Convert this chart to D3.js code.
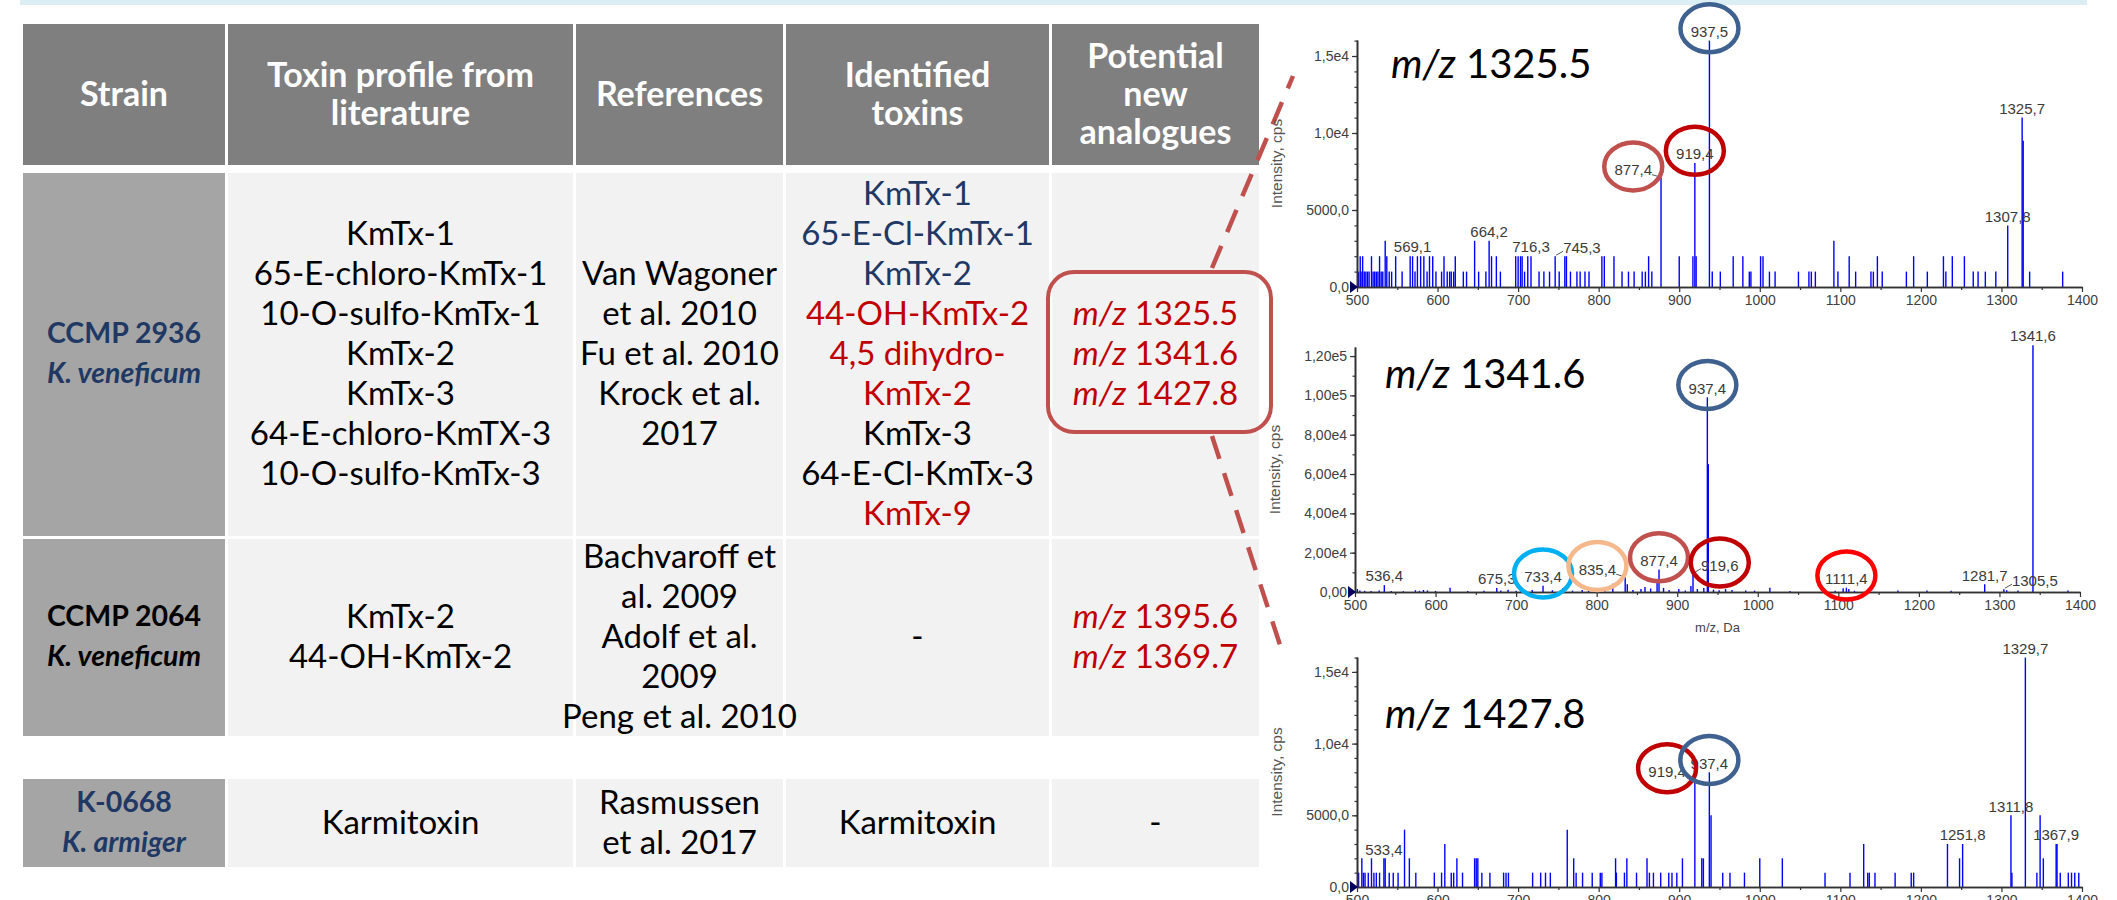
<!DOCTYPE html>
<html><head><meta charset="utf-8">
<script src="https://cdn.jsdelivr.net/npm/d3@7"></script>
<style>
html,body{margin:0;padding:0;background:#fff;}
svg{display:block;}
</style></head>
<body><svg id="chart" width="2117" height="900"></svg>
<script>
// ================= DATA =================
const headers = [["Strain"], ["Toxin profile from", "literature"], ["References"], ["Identified", "toxins"], ["Potential", "new", "analogues"]];
const strainIds = ["CCMP 2936", "CCMP 2064", "K-0668"];
const strainSpecies = ["K. veneficum", "K. veneficum", "K. armiger"];
const literatureProfile = [
  ["KmTx-1", "65-E-chloro-KmTx-1", "10-O-sulfo-KmTx-1", "KmTx-2", "KmTx-3", "64-E-chloro-KmTX-3", "10-O-sulfo-KmTx-3"],
  ["KmTx-2", "44-OH-KmTx-2"],
  ["Karmitoxin"]
];
const references = [
  ["Van Wagoner", "et al. 2010", "Fu et al. 2010", "Krock et al.", "2017"],
  ["Bachvaroff et", "al. 2009", "Adolf et al.", "2009", "Peng et al. 2010"],
  ["Rasmussen", "et al. 2017"]
];
const identifiedToxins = [
  ["KmTx-1", "65-E-Cl-KmTx-1", "KmTx-2", "44-OH-KmTx-2", "4,5 dihydro-", "KmTx-2", "KmTx-3", "64-E-Cl-KmTx-3", "KmTx-9"],
  ["-"],
  ["Karmitoxin"]
];
// status: "std" = matched with standard, "new" = newly reported, "lit" = known
const identifiedStatus = [
  ["std", "std", "std", "new", "new", "new", "lit", "lit", "new"],
  ["lit"],
  ["lit"]
];
const newAnalogues = [["1325.5", "1341.6", "1427.8"], ["1395.6", "1369.7"], []];

const spectrumPrecursors = ["1325.5", "1341.6", "1427.8"];
const xTickValues = [500, 600, 700, 800, 900, 1000, 1100, 1200, 1300, 1400];
const xTickLabels = ["500", "600", "700", "800", "900", "1000", "1100", "1200", "1300", "1400"];
const yTickValues1 = [0, 5000, 10000, 15000];
const yTickLabels1 = ["0,0", "5000,0", "1,0e4", "1,5e4"];
const yTickValues2 = [0, 20000, 40000, 60000, 80000, 100000, 120000];
const yTickLabels2 = ["0,00", "2,00e4", "4,00e4", "6,00e4", "8,00e4", "1,00e5", "1,20e5"];
const yTickValues3 = [0, 5000, 10000, 15000];
const yTickLabels3 = ["0,0", "5000,0", "1,0e4", "1,5e4"];

// [m/z, intensity (cps)]
const peaks1 = [[502,1000],[504,2000],[505,1000],[507,2000],[509,1000],[511,1000],[513,1000],[515,1000],[518,2000],[520,1000],[522,1000],[524,1000],[526,1000],[528,2000],[530,1000],[532,1000],[535,3000],[537,2000],[540,1000],[543,1000],[548,2000],[556,1000],[566,2000],[569,2000],[572,1000],[575,2000],[579,2000],[583,2000],[587,1000],[590,2000],[594,2000],[598,1000],[605,1000],[608,2000],[612,1000],[615,1000],[617,1000],[620,1000],[622,2000],[632,1000],[636,1000],[646,3000],[651,1000],[660,1000],[664,3000],[667,2000],[673,2000],[678,1000],[697,2000],[700,2000],[703,2000],[705,2000],[708,1000],[712,2000],[716,2000],[726,1000],[732,1000],[739,1000],[746,2000],[751,1000],[758,2000],[760,2000],[765,1000],[773,1000],[777,1000],[783,1000],[788,1000],[804,2000],[807,2000],[819,2000],[829,1000],[837,1000],[844,1000],[854,1000],[858,1000],[862,2000],[866,1000],[877.4,7100],[900,2000],[917,2000],[919.4,8050],[921,2000],[937.5,16000],[941,1000],[951,1000],[967,2000],[979,2000],[987,1000],[989,1000],[1001,2000],[1004,2000],[1012,1000],[1019,1000],[1048,1000],[1061,1000],[1064,1000],[1069,1000],[1092,3000],[1097,1000],[1111,2000],[1119,1000],[1138,1000],[1141,1000],[1146,2000],[1152,1000],[1182,1000],[1191,2000],[1208,1000],[1228,2000],[1231,1000],[1239,2000],[1254,2000],[1265,1000],[1271,1000],[1280,1000],[1293,1000],[1307.8,4000],[1325.7,11000],[1327,9500],[1335,1000],[1376,1000]];
const peaks2 = [[503,1500],[506,800],[512,600],[520,500],[530,700],[536.4,3500],[545,500],[560,400],[575,900],[580,600],[585,1000],[590,800],[600,500],[618,2200],[640,500],[660,600],[676,2000],[681,800],[690,1200],[700,600],[706,1500],[712,800],[720,1000],[733.4,3200],[745,900],[758,2000],[770,700],[782,1000],[790,600],[800,1200],[810,1500],[820,4200],[835.4,7500],[838,4000],[845,1000],[855,1500],[860,2500],[867,1800],[875,6000],[877.4,11400],[883,2000],[890,1000],[902,1500],[910,800],[917,3000],[919.6,9300],[925,1500],[933,2000],[937.4,99000],[938.6,65000],[945,1200],[952,900],[960,1500],[968,1000],[985,800],[996,700],[1015,2200],[1040,500],[1096,600],[1106,1900],[1110,2200],[1113,1500],[1120,600],[1174,700],[1210,700],[1240,600],[1281.7,3900],[1305.5,1400],[1309,900],[1323,800],[1341.6,125500],[1385,700]];
const peaks3 = [[502,1000],[506,2000],[508,1000],[510,1000],[514,1000],[518,2000],[521,1000],[524,1000],[528,1000],[533.4,2000],[535,2000],[540,1000],[545,1000],[551,1000],[559,4000],[565,2000],[573,1000],[596,1000],[605,1000],[609,3000],[617,1000],[620,1000],[624,2000],[631,1000],[646,2000],[648,2000],[650,2000],[655,1000],[665,1000],[682,1000],[685,1000],[688,1000],[718,1000],[728,1000],[734,1000],[740,1000],[761,4000],[769,2000],[772,1000],[780,1000],[792,1000],[802,1000],[804,1000],[821,2000],[822,1000],[832,1000],[835,2000],[847,1000],[860,2000],[863,1000],[868,1000],[877,1000],[887,1000],[891,1000],[897,1000],[904,2000],[919.4,7500],[928,2000],[930,2000],[937.4,8000],[939.5,5000],[954,1000],[963,1000],[981,1000],[1000,2000],[1028,2000],[1081,1000],[1112,1000],[1129,3000],[1134,1000],[1136,1000],[1143,1000],[1168,1000],[1188,1000],[1191,1000],[1233,3000],[1248,2000],[1251.8,3000],[1311.8,5000],[1313,1000],[1329.7,16000],[1344,1000],[1348,5000],[1352,2000],[1367.9,3000],[1369,3000],[1373,1000],[1383,1000],[1387,1000],[1391,1000],[1396,1000]];

// annotated peaks: [m/z, label text, placement]
const labels1 = [[569.1,"569,1","top"],[664.2,"664,2","top"],[716,"716,3","top"],[746,"745,3","right"],[877.4,"877,4","left"],[919.4,"919,4","top"],[937.5,"937,5","top"],[1307.8,"1307,8","top"],[1325.7,"1325,7","top"]];
const labels2 = [[536.4,"536,4","top"],[676,"675,3","top"],[733.4,"733,4","top"],[835.4,"835,4","left"],[877.4,"877,4","top"],[919.6,"919,6","right"],[937.4,"937,4","top"],[1110,"1111,4","top"],[1281.7,"1281,7","top"],[1305.5,"1305,5","right"],[1341.6,"1341,6","top"]];
const labels3 = [[533.4,"533,4","top"],[919.4,"919,4","left"],[937.4,"937,4","top"],[1251.8,"1251,8","top"],[1311.8,"1311,8","top"],[1329.7,"1329,7","top"],[1367.9,"1367,9","top"]];
// highlighted fragment ions: [label text, fragment group]
const circles1 = [["937,5","g937"],["919,4","g919"],["877,4","g877"]];
const circles2 = [["937,4","g937"],["733,4","g733"],["835,4","g835"],["877,4","g877"],["919,6","g919"],["1111,4","g1111"]];
const circles3 = [["919,4","g919"],["937,4","g937"]];

// ================= DRAWING =================
const svg = d3.select("#chart");
svg.append("rect").attr("width", 2117).attr("height", 900).attr("fill", "#fff");
svg.append("rect").attr("x", 20).attr("y", 0).attr("width", 2067).attr("height", 5).attr("fill", "#dbeef4");

const TF = "Lato, 'Open Sans', sans-serif";
const NAVY = "#1f3864", RED = "#c00000";

function addLines(g, cx, cy, items, lh, style) {
  const n = items.length;
  items.forEach((segs, i) => {
    const t = g.append("text")
      .attr("x", cx).attr("y", cy + (i - (n - 1) / 2) * lh)
      .attr("dy", "0.35em").attr("text-anchor", "middle")
      .attr("font-family", TF).attr("font-size", style.size)
      .attr("font-weight", style.weight || 400)
      .attr("fill", style.fill || "#000");
    segs.forEach(s => {
      t.append("tspan").text(s.t)
        .attr("font-style", s.it ? "italic" : "normal")
        .attr("fill", s.fill || null);
    });
  });
}

const table = svg.append("g");
const colX = [23, 228, 576, 786, 1052], colW = [202, 345, 207, 263, 207];
const hdr = [24, 165];
const rowsY = [[173, 536], [539, 736], [779, 867]];

headers.forEach((lines, i) => {
  table.append("rect").attr("x", colX[i]).attr("y", hdr[0]).attr("width", colW[i]).attr("height", hdr[1] - hdr[0]).attr("fill", "#7f7f7f");
  addLines(table, colX[i] + colW[i] / 2, (hdr[0] + hdr[1]) / 2, lines.map(t => [{t}]), 38, {size: 34, weight: 700, fill: "#fff"});
});

const strainColors = [NAVY, "#000", NAVY];
const statusColor = {std: NAVY, new: RED, lit: "#000"};
rowsY.forEach((ry, r) => {
  colX.forEach((cx0, c) => {
    table.append("rect").attr("x", cx0).attr("y", ry[0]).attr("width", colW[c]).attr("height", ry[1] - ry[0])
      .attr("fill", c === 0 ? "#a5a5a5" : "#f2f2f2");
  });
  const cy = (ry[0] + ry[1]) / 2 - 1;
  const ccx = c => colX[c] + colW[c] / 2;
  addLines(table, ccx(0), cy, [[{t: strainIds[r]}], [{t: strainSpecies[r], it: true}]], 40, {size: 28.5, weight: 700, fill: strainColors[r]});
  addLines(table, ccx(1), cy, literatureProfile[r].map(t => [{t}]), 40, {size: 33});
  addLines(table, ccx(2), cy, references[r].map(t => [{t}]), 40, {size: 33});
  addLines(table, ccx(3), cy, identifiedToxins[r].map((t, i) => [{t, fill: statusColor[identifiedStatus[r][i]]}]), 40, {size: 33});
  if (newAnalogues[r].length) {
    addLines(table, ccx(4), cy, newAnalogues[r].map(v => [{t: "m/z", it: true}, {t: " " + v}]), 40, {size: 33, fill: RED});
  } else {
    addLines(table, ccx(4), cy, [[{t: "-"}]], 40, {size: 33});
  }
});

// highlight box + dashed connectors
const ACC = "#c0504d";
svg.append("rect").attr("x", 1048).attr("y", 272).attr("width", 223).attr("height", 160).attr("rx", 26)
  .attr("fill", "none").attr("stroke", ACC).attr("stroke-width", 4);
svg.append("line").attr("x1", 1212).attr("y1", 268).attr("x2", 1293).attr("y2", 76)
  .attr("stroke", ACC).attr("stroke-width", 4.5).attr("stroke-dasharray", "24,15");
svg.append("line").attr("x1", 1212).attr("y1", 436).attr("x2", 1281).attr("y2", 648)
  .attr("stroke", ACC).attr("stroke-width", 4.5).attr("stroke-dasharray", "24,15");

// spectra
const LF = "'Liberation Sans', Arial, sans-serif";
const circleColor = {g937: "#3f6190", g919: "#c00000", g877: "#c0504d", g733: "#00b0f0", g835: "#f5b88a", g1111: "#ff0000"};

function drawSpectrum(cfg) {
  const g = svg.append("g");
  const x = d3.scaleLinear().domain([500, 1400]).range([cfg.x0, cfg.x1]);
  const y = d3.scaleLinear().domain([0, cfg.yMax]).range([cfg.yb, cfg.yt]);

  g.append("g").selectAll("line").data(cfg.peaks).join("line")
    .attr("x1", d => x(d[0])).attr("x2", d => x(d[0]))
    .attr("y1", y(0)).attr("y2", d => y(d[1]))
    .attr("stroke", "#0000ff").attr("stroke-width", 1.4);

  const styleAxis = sel => {
    sel.select(".domain").attr("stroke", "#333").attr("stroke-width", 1.6);
    sel.selectAll(".tick line").attr("stroke", "#333").attr("stroke-width", 1.2);
    sel.selectAll(".tick text").attr("fill", "#404040").attr("font-family", LF).attr("font-size", 14);
  };
  const gx = g.append("g").attr("transform", `translate(0,${cfg.yb})`)
    .call(d3.axisBottom(x).tickValues(xTickValues).tickFormat((d, i) => xTickLabels[i]).tickSize(5).tickPadding(3).tickSizeOuter(0));
  styleAxis(gx);
  const gxm = g.append("g").attr("transform", `translate(0,${cfg.yb})`)
    .call(d3.axisBottom(x).tickValues(d3.range(550, 1400, 100)).tickFormat("").tickSize(3).tickSizeOuter(0));
  styleAxis(gxm);
  const gy = g.append("g").attr("transform", `translate(${cfg.x0},0)`)
    .call(d3.axisLeft(y).tickValues(cfg.yTicks).tickFormat((d, i) => cfg.yLabels[i]).tickSize(5).tickPadding(3).tickSizeOuter(0));
  styleAxis(gy);
  const gym = g.append("g").attr("transform", `translate(${cfg.x0},0)`)
    .call(d3.axisLeft(y).tickValues(d3.range(0, cfg.yMax, cfg.minor)).tickFormat("").tickSize(2.5).tickSizeOuter(0));
  styleAxis(gym);

  // origin marker
  g.append("path").attr("d", `M${cfg.x0 - 7},${cfg.yb - 6}L${cfg.x0 + 1},${cfg.yb}L${cfg.x0 - 7},${cfg.yb + 6}Z`).attr("fill", "#00005a");

  g.append("text").attr("transform", `translate(${cfg.x0 - 80},${(cfg.yb + cfg.yt) / 2}) rotate(-90)`)
    .attr("text-anchor", "middle").attr("dy", "0.35em")
    .attr("font-family", LF).attr("font-size", 15.5).attr("fill", "#555").text("Intensity, cps");
  if (cfg.xTitle) {
    g.append("text").attr("x", (cfg.x0 + cfg.x1) / 2).attr("y", cfg.yb + 35).attr("dy", "0.35em")
      .attr("text-anchor", "middle").attr("font-family", LF).attr("font-size", 13).attr("fill", "#444").text("m/z, Da");
  }

  const t = g.append("text").attr("x", cfg.tx).attr("y", cfg.ty).attr("font-family", TF).attr("font-size", 40).attr("fill", "#000");
  t.append("tspan").attr("font-style", "italic").text("m/z");
  t.append("tspan").text(" " + cfg.title);

  const labelNodes = {};
  cfg.labels.forEach(([mz, txt, mode]) => {
    const pk = cfg.peaks.reduce((a, b) => Math.abs(b[0] - mz) < Math.abs(a[0] - mz) ? b : a);
    const px = x(pk[0]), py = y(pk[1]);
    let lx = px, ly = py - 9, anchor = "middle";
    if (mode === "left") { lx = px - 9; ly = py - 8; anchor = "end"; }
    if (mode === "right") { lx = px + 8; ly = py - 8; anchor = "start"; }
    const tx = g.append("text").attr("x", lx).attr("y", ly).attr("dy", "0.35em").attr("text-anchor", anchor)
      .attr("font-family", LF).attr("font-size", 15).attr("fill", "#3a3a3a").text(txt);
    if (mode === "left") g.append("path").attr("d", `M${px - 9},${py - 3}L${px - 2},${py - 1}`).attr("stroke", "#555").attr("fill", "none");
    if (mode === "right") g.append("path").attr("d", `M${px + 1},${py - 1}L${px + 8},${py - 5}`).attr("stroke", "#555").attr("fill", "none");
    labelNodes[txt] = tx;
  });

  cfg.circles.forEach(([txt, grp]) => {
    const b = labelNodes[txt].node().getBBox();
    g.append("ellipse").attr("cx", b.x + b.width / 2).attr("cy", b.y + b.height / 2 - 3)
      .attr("rx", 29).attr("ry", 24).attr("fill", "none")
      .attr("stroke", circleColor[grp]).attr("stroke-width", 4.5);
  });
}

drawSpectrum({peaks: peaks1, labels: labels1, circles: circles1, title: spectrumPrecursors[0],
  x0: 1357, x1: 2082, yb: 287, yt: 40, yMax: 16040, yTicks: yTickValues1, yLabels: yTickLabels1, minor: 1000,
  tx: 1391, ty: 78, xTitle: false});
drawSpectrum({peaks: peaks2, labels: labels2, circles: circles2, title: spectrumPrecursors[1],
  x0: 1355, x1: 2080, yb: 592, yt: 347, yMax: 124600, yTicks: yTickValues2, yLabels: yTickLabels2, minor: 10000,
  tx: 1385, ty: 388, xTitle: true});
drawSpectrum({peaks: peaks3, labels: labels3, circles: circles3, title: spectrumPrecursors[2],
  x0: 1357, x1: 2082, yb: 887, yt: 657, yMax: 16040, yTicks: yTickValues3, yLabels: yTickLabels3, minor: 1000,
  tx: 1385, ty: 728, xTitle: false});
</script>
</body></html>
